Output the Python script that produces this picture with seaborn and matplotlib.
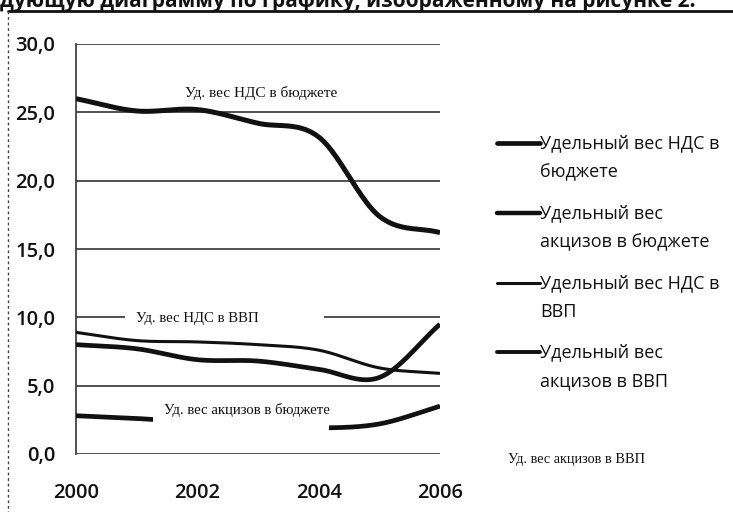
import numpy as np
import pandas as pd
import matplotlib
matplotlib.use("Agg")
import matplotlib.pyplot as plt
import seaborn as sns
from matplotlib.lines import Line2D
from matplotlib.patches import Rectangle

years = [2000, 2001, 2002, 2003, 2004, 2005, 2006]
nds_budget = [26.0, 25.1, 25.2, 24.2, 23.2, 17.4, 16.2]
excise_budget = [2.8, 2.6, 2.3, 2.0, 1.9, 2.2, 3.5]
nds_gdp = [8.9, 8.3, 8.2, 8.0, 7.6, 6.3, 5.9]
excise_gdp = [8.0, 7.7, 6.9, 6.8, 6.2, 5.6, 9.5]

series_names = ["Удельный вес НДС в бюджете", "Удельный вес акцизов в бюджете",
                "Удельный вес НДС в ВВП", "Удельный вес акцизов в ВВП"]
legend_lines = [["Удельный вес НДС в", "бюджете"],
                ["Удельный вес", "акцизов в бюджете"],
                ["Удельный вес НДС в", "ВВП"],
                ["Удельный вес", "акцизов в ВВП"]]
yticks = [0, 5, 10, 15, 20, 25, 30]
xticks = [2000, 2002, 2004, 2006]

sns.set_theme(style="white")
plt.rcParams["font.family"] = ["Open Sans", "DejaVu Sans"]


def smooth(x, y, n=24):
    # Excel-style smoothed line (Bezier through the points), display only
    x = np.asarray(x, float)
    y = np.asarray(y, float)
    px = np.concatenate([[2 * x[0] - x[1]], x, [2 * x[-1] - x[-2]]])
    py = np.concatenate([[2 * y[0] - y[1]], y, [2 * y[-1] - y[-2]]])
    xs, ys = [], []
    for i in range(1, len(px) - 2):
        t = np.linspace(0, 1, n, endpoint=False)
        for arr, out in ((px, xs), (py, ys)):
            p0, p1, p2, p3 = arr[i - 1], arr[i], arr[i + 1], arr[i + 2]
            c1 = p1 + (p2 - p0) / 6
            c2 = p2 - (p3 - p1) / 6
            out.extend((1 - t) ** 3 * p1 + 3 * (1 - t) ** 2 * t * c1 + 3 * (1 - t) * t ** 2 * c2 + t ** 3 * p2)
    xs.append(x[-1]); ys.append(y[-1])
    return np.array(xs), np.array(ys)


frames = []
for name, vals in zip(series_names, [nds_budget, excise_budget, nds_gdp, excise_gdp]):
    sx, sy = smooth(years, vals)
    frames.append(pd.DataFrame({"year": sx, "value": sy, "series": name}))
df = pd.concat(frames, ignore_index=True)

W, H = 733, 512
fig = plt.figure(figsize=(W / 100, H / 100), dpi=100)
ax = fig.add_axes([76 / W, 1 - 454 / H, (440 - 76) / W, (454 - 44) / H])

widths = {series_names[0]: 3.6, series_names[1]: 3.4, series_names[2]: 2.2, series_names[3]: 3.4}
for name in series_names:
    sns.lineplot(data=df[df.series == name], x="year", y="value", ax=ax, color="#111111",
                 linewidth=widths[name], sort=False, estimator=None, legend=False, zorder=3,
                 solid_capstyle="butt")

ax.set_xlim(2000, 2006)
ax.set_ylim(0, 30)
ax.set_yticks(yticks)
ax.set_yticklabels([f"{v:.1f}".replace(".", ",") for v in yticks])
ax.set_xticks(xticks)
ax.set_xticklabels([str(v) for v in xticks])
ax.set_xlabel("")
ax.set_ylabel("")
ax.tick_params(axis="y", length=0, pad=15, labelsize=14.5, colors="#111111")
ax.tick_params(axis="x", length=0, pad=21, labelsize=14.5, colors="#111111")
for t in ax.get_xticklabels() + ax.get_yticklabels():
    t.set_fontweight("semibold")
for v in yticks:
    ax.axhline(v, color="#333333", linewidth=1.2, zorder=1)
for s in ["top", "right", "bottom"]:
    ax.spines[s].set_visible(False)
ax.spines["left"].set_color("#333333")
ax.spines["left"].set_linewidth(1.2)
ax.spines["left"].set_linestyle((0, (2, 1)))
ax.set_facecolor("white")

# white label backgrounds (as in the original Excel chart)
ax.add_patch(Rectangle((2000.81, 9.3), 2004.08 - 2000.81, 1.4, facecolor="white",
                       edgecolor="none", zorder=4))
ax.add_patch(Rectangle((2001.27, 1.0), 2004.17 - 2001.27, 3.4, facecolor="white",
                       edgecolor="none", zorder=4))

lab_kw = dict(family=["Liberation Serif", "DejaVu Serif"], color="#111111",
              zorder=5, ha="center", va="center")
ax.text(2003.05, 26.45, "Уд. вес НДС в бюджете", fontsize=11, **lab_kw)
ax.text(2002.0, 9.95, "Уд. вес НДС в ВВП", fontsize=10.6, **lab_kw)
ax.text(2002.82, 3.2, "Уд. вес акцизов в бюджете", fontsize=10.6, **lab_kw)
fig.text(576 / W, 1 - 460 / H, "Уд. вес акцизов в ВВП", family=["Liberation Serif", "DejaVu Serif"],
         fontsize=10.3, color="#111111", ha="center", va="center")

# legend drawn on the figure
leg_y = [143, 213, 283, 352]
leg_w = [3.4, 3.2, 2.2, 2.8]
for yy, lw, lines in zip(leg_y, leg_w, legend_lines):
    fig.add_artist(Line2D([497 / W, 540 / W], [1 - yy / H, 1 - yy / H], color="#111111", linewidth=lw))
    fig.text(540 / W, 1 - yy / H, lines[0], fontsize=13, color="#111111", va="center", ha="left")
    fig.text(540 / W, 1 - (yy + 29) / H, lines[1], fontsize=13, color="#111111", va="center", ha="left")

# page/chart frame remnants
fig.add_artist(Line2D([8 / W, 1], [1 - 11 / H, 1 - 11 / H], color="#111111", linewidth=2.0))
fig.add_artist(Line2D([8 / W, 8 / W], [1 - 11 / H, 0], color="#444444", linewidth=1.0,
                      linestyle=(0, (2, 2))))
fig.text(0.0, 1 - 1 / H, "дующую диаграмму по графику, изображенному на рисунке 2.",
         fontsize=15, fontweight="bold", color="#111111", ha="left", va="center")

fig.savefig("out.png", dpi=100, facecolor="white")
